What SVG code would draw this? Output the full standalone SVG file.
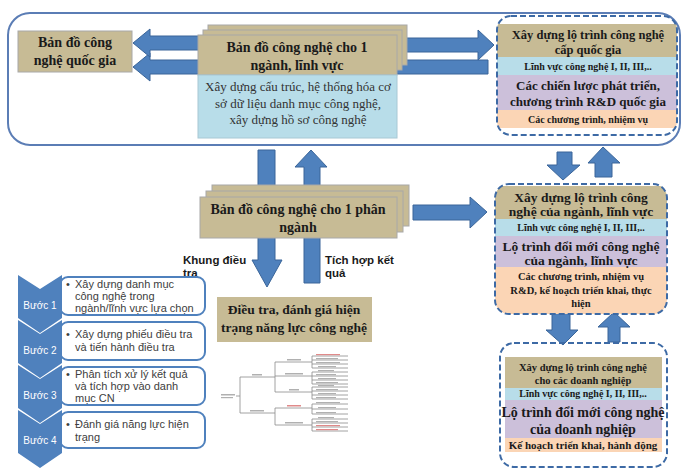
<svg xmlns="http://www.w3.org/2000/svg" width="683" height="470" viewBox="0 0 683 470">
<defs>
<style>
.t{font-family:"Liberation Serif","Times New Roman",serif;font-weight:bold;fill:#1a1a1a;text-anchor:middle}
.n{font-family:"Liberation Serif","Times New Roman",serif;fill:#333;text-anchor:middle;font-size:13px}
.s{font-family:"Liberation Sans",Arial,sans-serif;fill:#404040;font-size:11px}
.lb{font-family:"Liberation Sans",Arial,sans-serif;font-weight:bold;fill:#1a1a1a;font-size:11.5px}
.w{font-family:"Liberation Sans",Arial,sans-serif;fill:#fff;font-size:10px;text-anchor:middle}
.arr{fill:#4f81bd;stroke:#3a6599;stroke-width:1}
.tan{fill:#c7bb95}
.tanb{fill:#c7bb95;stroke:#a8a8a8;stroke-width:1}
.lblue{fill:#b8dde9}
.lav{fill:#ccc0da}
.pch{fill:#fbd5b5}
.dash{fill:none;stroke:#3d6aa5;stroke-width:2;stroke-dasharray:6 3}
.step{fill:#fff;stroke:#4f81bd;stroke-width:2}
.chev{fill:#4f81bd}
.tl{stroke:#8a8a8a;stroke-width:0.8;fill:none}
.tb{fill:#b0b0b0}
.tr{fill:#e08a8a}
</style>
<clipPath id="c1"><rect x="497" y="16" width="180" height="119" rx="14"/></clipPath>
<clipPath id="c2"><rect x="495" y="184" width="172" height="130" rx="14"/></clipPath>
<clipPath id="c3"><rect x="500" y="343" width="167" height="124" rx="14"/></clipPath>
</defs>

<g id="outer-frame">
<rect x="8" y="13" width="672" height="132" rx="22" fill="#fff" stroke="#5b7db5" stroke-width="2"/>
</g>

<g id="connectors">
<polygon class="arr" points="133,67 150,53 150,60 488,60 488,74 150,74 150,81"/>
<polygon class="arr" points="133,43 150,29 150,36 205,36 205,50 150,50 150,57"/>
<polygon class="arr" points="400,38 478,38 478,30 494,45 478,60 478,52 400,52"/>
<polygon class="arr" points="258,150 275,150 275,260 282,260 267,287 252,260 258,260"/>
<polygon class="arr" points="311,150 327,167 320,167 320,283 304,283 304,167 295,167"/>
<polygon class="arr" points="557,152 572,152 572,165 580,165 563,180 547,165 557,165"/>
<polygon class="arr" points="603,147 620,163 612,163 612,177 595,177 595,163 588,163"/>
<polygon class="arr" points="552,313 570,313 570,330 578,330 563,345 546,330 552,330"/>
<polygon class="arr" points="614,312 630,327 620,327 620,342 608,342 608,327 598,327"/>
<polygon class="arr" points="413,205 470,205 470,197 487,212 470,228 470,220 413,220"/>
</g>

<g id="national-map">
<rect class="tanb" x="18" y="31" width="114" height="41"/>
<text class="t" font-size="14" x="75" y="47">Bản đồ công</text>
<text class="t" font-size="14" x="75" y="65">nghệ quốc gia</text>
</g>

<g id="sector-map">
<rect class="tanb" x="208" y="25" width="199" height="40"/>
<rect class="tanb" x="203" y="30" width="199" height="40"/>
<rect class="tanb" x="198" y="35" width="199" height="40"/>
<text class="t" font-size="14" x="297" y="52">Bản đồ công nghệ cho 1</text>
<text class="t" font-size="14" x="297" y="70">ngành, lĩnh  vực</text>
</g>

<g id="sector-database">
<rect class="lblue" x="198" y="75" width="199" height="63" stroke="#a8c8d4" stroke-width="1"/>
<text class="n" x="298" y="91">Xây dựng cấu trúc, hệ thống hóa cơ</text>
<text class="n" x="298" y="108">sở dữ liệu  danh mục công nghệ,</text>
<text class="n" x="298" y="124">xây dựng hồ sơ công nghệ</text>
</g>

<g id="national-roadmap">
<g clip-path="url(#c1)">
<rect class="tan" x="497" y="24" width="180" height="33"/>
<rect class="lblue" x="497" y="57" width="180" height="18"/>
<rect class="lav" x="497" y="75" width="180" height="35"/>
<rect class="pch" x="497" y="110" width="180" height="18"/>
</g>
<rect class="dash" x="497" y="16" width="180" height="119" rx="14"/>
<text class="t" font-size="12.5" x="588" y="39">Xây dựng lộ trình  công nghệ</text>
<text class="t" font-size="12.5" x="588" y="54">cấp quốc gia</text>
<text class="t" font-size="10" x="588" y="70">Lĩnh  vực công nghệ I, II, III,..</text>
<text class="t" font-size="13" x="588" y="90">Các chiến lược phát triển,</text>
<text class="t" font-size="13" x="588" y="106">chương trình  R&amp;D quốc gia</text>
<text class="t" font-size="10" x="588" y="123">Các chương trình,  nhiệm vụ</text>
</g>

<g id="subsector-map">
<rect class="tanb" x="212" y="185" width="197" height="41"/>
<rect class="tanb" x="206" y="191" width="197" height="41"/>
<rect class="tanb" x="200" y="197" width="197" height="41"/>
<text class="t" font-size="14" x="298" y="214">Bản đồ công nghệ cho 1 phân</text>
<text class="t" font-size="14" x="298" y="232">ngành</text>
</g>

<g id="label-khung">
<text class="lb" x="183" y="264">Khung điều</text>
<text class="lb" x="183" y="277">tra</text>
</g>
<g id="label-tichhop">
<text class="lb" x="325" y="264">Tích hợp kết</text>
<text class="lb" x="325" y="277">quả</text>
</g>

<g id="survey">
<rect class="tan" x="217" y="297" width="155" height="45"/>
<text class="t" font-size="13.5" x="294" y="314">Điều tra, đánh giá hiện</text>
<text class="t" font-size="13.5" x="294" y="332">trạng năng lực công nghệ</text>
</g>

<g id="sector-roadmap">
<g clip-path="url(#c2)">
<rect class="tan" x="495" y="186" width="172" height="33"/>
<rect class="lblue" x="495" y="219" width="172" height="17"/>
<rect class="lav" x="495" y="236" width="172" height="31"/>
<rect class="pch" x="495" y="267" width="172" height="47"/>
</g>
<rect class="dash" x="495" y="184" width="172" height="130" rx="14"/>
<text class="t" font-size="13.5" x="581" y="202">Xây dựng lộ trình  công</text>
<text class="t" font-size="13.5" x="581" y="216">nghệ  của ngành, lĩnh vực</text>
<text class="t" font-size="10" x="581" y="231">Lĩnh  vực công nghệ I, II, III,..</text>
<text class="t" font-size="13.5" x="581" y="251">Lộ trình đổi mới công nghệ</text>
<text class="t" font-size="13.5" x="581" y="265">của ngành, lĩnh vực</text>
<text class="t" font-size="10.5" x="581" y="280">Các chương trình,  nhiệm vụ</text>
<text class="t" font-size="10.5" x="581" y="294">R&amp;D, kế hoạch triển khai, thực</text>
<text class="t" font-size="10.5" x="581" y="307">hiện</text>
</g>

<g id="enterprise-roadmap">
<g clip-path="url(#c3)">
<rect class="tan" x="505" y="357" width="157" height="31"/>
<rect class="lblue" x="505" y="388" width="157" height="12"/>
<rect class="lav" x="505" y="400" width="157" height="38"/>
<rect class="pch" x="505" y="438" width="157" height="14"/>
</g>
<rect class="dash" x="500" y="343" width="167" height="124" rx="14"/>
<text class="t" font-size="10.5" x="583" y="371">Xây dựng lộ trình  công nghệ</text>
<text class="t" font-size="10.5" x="583" y="384">cho các doanh  nghiệp</text>
<text class="t" font-size="10" x="583" y="397">Lĩnh  vực công nghệ I, II, III,..</text>
<text class="t" font-size="14" x="583" y="417">Lộ trình đổi mới công nghệ</text>
<text class="t" font-size="14" x="583" y="434">của doanh nghiệp</text>
<text class="t" font-size="11" x="583" y="449">Kế hoạch triển khai, hành động</text>
</g>

<g id="step-1">
<rect class="step" x="60" y="277" width="145" height="38" rx="8"/>
<polygon class="chev" points="18,275 40,289 62,275 62,318 40,333 18,318"/>
<text class="w" x="40" y="309">Bước 1</text>
<text class="s" x="66" y="288">•</text>
<text class="s" x="75" y="288">Xây dựng danh mục</text>
<text class="s" x="75" y="300">công nghệ trong</text>
<text class="s" x="75" y="312">ngành/lĩnh  vực lựa chọn</text>
</g>
<g id="step-2">
<rect class="step" x="60" y="322" width="145" height="38" rx="8"/>
<polygon class="chev" points="18,320 40,334 62,320 62,363 40,378 18,363"/>
<text class="w" x="40" y="354">Bước 2</text>
<text class="s" x="66" y="338">•</text>
<text class="s" x="75" y="338">Xây dựng phiếu điều tra</text>
<text class="s" x="75" y="351">và tiến hành  điều tra</text>
</g>
<g id="step-3">
<rect class="step" x="60" y="367" width="145" height="38" rx="8"/>
<polygon class="chev" points="18,365 40,379 62,365 62,408 40,423 18,408"/>
<text class="w" x="40" y="399">Bước 3</text>
<text class="s" x="66" y="378">•</text>
<text class="s" x="75" y="378">Phân tích  xử lý kết quả</text>
<text class="s" x="75" y="390">và tích  hợp vào danh</text>
<text class="s" x="75" y="402">mục CN</text>
</g>
<g id="step-4">
<rect class="step" x="60" y="412" width="145" height="36" rx="8"/>
<polygon class="chev" points="18,410 40,424 62,410 62,453 40,468 18,453"/>
<text class="w" x="40" y="444">Bước 4</text>
<text class="s" x="66" y="428">•</text>
<text class="s" x="75" y="428">Đánh giá năng  lực hiện</text>
<text class="s" x="75" y="441">trạng</text>
</g>

<g id="tree-figure">
<rect class="tb" x="221" y="394" width="14" height="1.5"/>
<rect class="tb" x="221" y="397" width="12" height="1.2"/>
<path class="tl" d="M236,396 H240 M240,377 V413 M240,377 H275 M240,413 H275 M275,362 V392 M275,362 H312 M275,376 H312 M275,392 H312 M275,408 V425 M275,408 H312 M275,425 H312"/>
<rect class="tb" x="252" y="374" width="10" height="1.5"/>
<rect class="tb" x="250" y="410" width="14" height="1.5"/>
<rect class="tb" x="287" y="359" width="14" height="1.5"/>
<rect class="tb" x="285" y="373" width="18" height="1.5"/>
<rect class="tb" x="289" y="389" width="10" height="1.5"/>
<rect class="tr" x="287" y="405" width="14" height="1.5"/>
<rect class="tb" x="285" y="422" width="18" height="1.5"/>
<path class="tl" d="M312,356 V368 M312,372 V384 M312,387 V399 M312,404 V414 M312,419 V431 M312,356 H348 M312,360 H348 M312,364 H348 M312,368 H348 M312,372 H348 M312,376 H348 M312,380 H348 M312,384 H348 M312,387 H348 M312,391 H348 M312,395 H348 M312,399 H348 M312,404 H348 M312,409 H348 M312,414 H348 M312,419 H348 M312,423 H348 M312,427 H348 M312,431 H348"/>
<rect class="tr" x="316" y="354" width="24" height="1.2"/>
<rect class="tb" x="316" y="358" width="22" height="1.2"/>
<rect class="tb" x="316" y="362" width="24" height="1.2"/>
<rect class="tb" x="318" y="366" width="18" height="1.2"/>
<rect class="tb" x="318" y="370" width="16" height="1.2"/>
<rect class="tb" x="316" y="374" width="20" height="1.2"/>
<rect class="tb" x="318" y="378" width="18" height="1.2"/>
<rect class="tb" x="316" y="382" width="22" height="1.2"/>
<rect class="tb" x="318" y="385" width="16" height="1.2"/>
<rect class="tb" x="316" y="389" width="22" height="1.2"/>
<rect class="tb" x="318" y="393" width="18" height="1.2"/>
<rect class="tb" x="316" y="397" width="20" height="1.2"/>
<rect class="tb" x="316" y="402" width="24" height="1.2"/>
<rect class="tb" x="318" y="407" width="18" height="1.2"/>
<rect class="tb" x="316" y="412" width="20" height="1.2"/>
<rect class="tb" x="318" y="417" width="16" height="1.2"/>
<rect class="tb" x="316" y="421" width="22" height="1.2"/>
<rect class="tr" x="316" y="425" width="24" height="1.2"/>
<rect class="tr" x="316" y="429" width="22" height="1.2"/>
</g>
</svg>
